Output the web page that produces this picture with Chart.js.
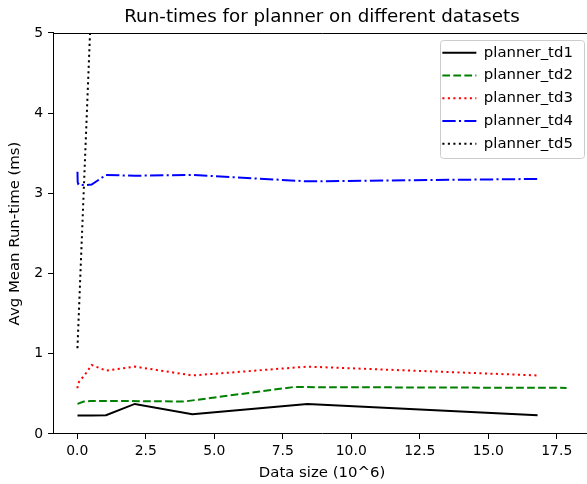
<!DOCTYPE html>
<html><head><meta charset="utf-8">
<script src="https://cdn.jsdelivr.net/npm/chart.js@4"></script>
<style>
html,body{margin:0;padding:0;background:#fff;overflow:hidden;}
#wrap{width:587px;height:484px;overflow:hidden;position:relative;}
canvas{display:block;}
</style></head><body>
<div id="wrap"><canvas id="c" width="644" height="484" style="width:644px;height:484px"></canvas></div>
<script>
// ---- data ----
const chartTitle = 'Run-times for planner on different datasets';
const xTitle = 'Data size (10^6)';
const yTitle = 'Avg Mean Run-time (ms)';
const seriesNames = ['planner_td1', 'planner_td2', 'planner_td3', 'planner_td4', 'planner_td5'];

const sizes    = [0.008, 0.016, 0.033, 0.066, 0.131, 0.262, 0.525, 1.05, 2.1, 4.2, 8.4, 16.8];
const td1      = [0.23, 0.23, 0.23, 0.23, 0.23, 0.23, 0.232, 0.235, 0.375, 0.245, 0.375, 0.235];
const sizesTd2 = [0.01, 0.24, 0.49, 0.98, 1.96, 3.9, 7.88, 17.86];
const td2      = [0.375, 0.405, 0.41, 0.41, 0.41, 0.405, 0.585, 0.575];
const td3      = [0.57, 0.60, 0.63, 0.65, 0.68, 0.73, 0.86, 0.79, 0.84, 0.73, 0.84, 0.73];
const td4      = [3.27, 3.14, 3.12, 3.13, 3.11, 3.10, 3.11, 3.23, 3.22, 3.23, 3.15, 3.18];
const sizesTd5 = [0.008, 0.525, 1.05];
const td5      = [1.07, 5.5, 9.9];

const xMin = -0.885, xMax = 18.75, xStep = 2.5;
const yMin = 0, yMax = 5, yStep = 1;

// ---- styles ----
const LW = 2;
const DASHED = [7.7, 3.3], DOTTED = [2.1, 3.4], DASHDOT = [13.3, 3.3, 2.1, 3.3];

function makeSet(label, xs, ys, color, dash) {
  return {
    label, data: xs.map((x, i) => ({x, y: ys[i]})),
    borderColor: color, backgroundColor: color, borderWidth: LW, borderDash: dash,
    borderCapStyle: 'butt', pointRadius: 0, pointHoverRadius: 0, tension: 0, fill: false, clip: 0
  };
}

Chart.defaults.font.family = "'DejaVu Sans', sans-serif";
Chart.defaults.color = '#000';

const mplPlugin = {
  id: 'mplLook',
  afterLayout(chart) {
    const ca = chart.chartArea, lg = chart.legend;
    if (!lg) return;
    const w = lg.width, h = lg.height;
    lg.left = ca.right - 156.5; lg.right = lg.left + w;
    lg.top = ca.top + 4.4; lg.bottom = lg.top + h;
  },
  beforeDraw(chart) {
    const ctx = chart.ctx, ca = chart.chartArea;
    ctx.save();
    ctx.beginPath();
    ctx.roundRect(Math.round(ca.right - 151) + 0.5, Math.round(ca.top + 7) + 0.5, 144, 118, 3);
    ctx.fillStyle = 'rgba(255,255,255,0.8)';
    ctx.fill();
    ctx.strokeStyle = '#cccccc';
    ctx.lineWidth = 1;
    ctx.stroke();
    ctx.restore();
  },
  afterDatasetsDraw(chart) {
    const ctx = chart.ctx, ca = chart.chartArea;
    ctx.save();
    ctx.strokeStyle = '#000';
    ctx.lineWidth = 1;
    ctx.beginPath();
    const t = Math.round(ca.top) + 0.5, r = Math.round(ca.right) + 0.5;
    ctx.moveTo(ca.left, t); ctx.lineTo(r, t); ctx.lineTo(r, ca.bottom);
    ctx.stroke();
    ctx.restore();
  }
};

const tickFont = {size: 13.9};
const labelFont = {size: 14.9};
new Chart(document.getElementById('c'), {
  type: 'line',
  data: {
    datasets: [
      makeSet(seriesNames[0], sizes, td1, '#000000', []),
      makeSet(seriesNames[1], sizesTd2, td2, '#008000', DASHED),
      makeSet(seriesNames[2], sizes, td3, '#ff0000', DOTTED),
      makeSet(seriesNames[3], sizes, td4, '#0000ff', DASHDOT),
      makeSet(seriesNames[4], sizesTd5, td5, '#000000', DOTTED)
    ]
  },
  options: {
    responsive: false, animation: false, devicePixelRatio: 1,
    layout: {padding: 0},
    plugins: {
      tooltip: {enabled: false},
      title: {display: true, text: chartTitle, font: {size: 18.3, weight: 'normal'}, color: '#000', padding: {top: 6.2, bottom: 4.8}},
      legend: {
        position: 'chartArea', align: 'start',
        labels: {
          usePointStyle: true, pointStyleWidth: 34, padding: 7.85, font: labelFont, color: '#000',
          generateLabels(chart) {
            const items = Chart.defaults.plugins.legend.labels.generateLabels(chart);
            items.forEach(it => {
              const d = chart.data.datasets[it.datasetIndex];
              it.pointStyle = 'line'; it.lineDash = d.borderDash; it.lineWidth = d.borderWidth;
              it.strokeStyle = d.borderColor; it.fillStyle = d.borderColor; it.lineCap = 'butt'; it.fontColor = '#000';
            });
            return items;
          }
        }
      }
    },
    scales: {
      x: {
        type: 'linear', min: xMin, max: xMax,
        afterFit(s) { s.height = 50; },
        ticks: {stepSize: xStep, includeBounds: false, padding: 4.5, font: tickFont, color: '#000', maxRotation: 0, autoSkip: false,
                callback: v => Number(v).toFixed(1)},
        grid: {display: true, drawOnChartArea: false, drawTicks: true, tickLength: 5, color: '#000', lineWidth: 1},
        border: {display: true, color: '#000', width: 1},
        title: {display: true, text: xTitle, font: labelFont, color: '#000', padding: {top: 0, bottom: 1.6}}
      },
      y: {
        type: 'linear', min: yMin, max: yMax,
        afterFit(s) { s.width = 53; },
        ticks: {stepSize: yStep, padding: 5, font: tickFont, color: '#000'},
        grid: {display: true, drawOnChartArea: false, drawTicks: true, tickLength: 5, color: '#000', lineWidth: 1},
        border: {display: true, color: '#000', width: 1},
        title: {display: true, text: yTitle, font: labelFont, color: '#000', padding: {top: 6.5, bottom: 0}}
      },
      yR: {
        type: 'linear', position: 'right', display: true,
        afterFit(s) { s.width = 53; },
        ticks: {display: false}, grid: {display: false}, border: {display: false}
      }
    }
  },
  plugins: [mplPlugin]
});
</script>
</body></html>
